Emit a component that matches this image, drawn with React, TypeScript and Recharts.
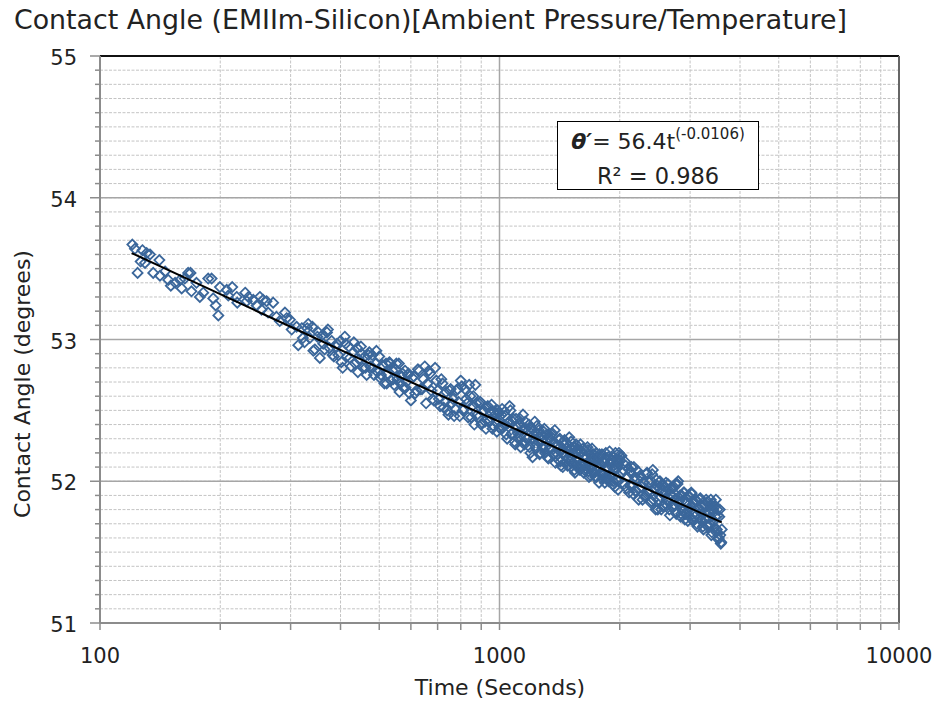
import { ScatterChart, Scatter, XAxis, YAxis, CartesianGrid, ReferenceLine } from "recharts";

// tick positions (log time axis, angle axis in 0.1 deg steps)
const timeTicks = [100, 200, 300, 400, 500, 600, 700, 800, 900, 1000, 2000, 3000, 4000, 5000, 6000, 7000, 8000, 9000, 10000];
const timeLabels = [100, 1000, 10000];
const angleTicks = [
  51, 51.1, 51.2, 51.3, 51.4, 51.5, 51.6, 51.7, 51.8, 51.9,
  52, 52.1, 52.2, 52.3, 52.4, 52.5, 52.6, 52.7, 52.8, 52.9,
  53, 53.1, 53.2, 53.3, 53.4, 53.5, 53.6, 53.7, 53.8, 53.9,
  54, 54.1, 54.2, 54.3, 54.4, 54.5, 54.6, 54.7, 54.8, 54.9, 55,
];
const angleLabels = [51, 52, 53, 54, 55];

// measured contact angle [time s, angle deg]
const earlyReadings = [
  [120.5, 53.67], [122.3, 53.64], [124.2, 53.47], [126.4, 53.55], [127.7, 53.63], [129.6, 53.54],
  [130.9, 53.61], [133.4, 53.6], [135.9, 53.47], [140.8, 53.56], [141.3, 53.45], [145.5, 53.48],
  [148.2, 53.42], [150.4, 53.38], [154.2, 53.4], [158.7, 53.42], [160.1, 53.36], [163, 53.43],
  [166.2, 53.47], [168.5, 53.47], [169.4, 53.34], [174.4, 53.4], [177.8, 53.3], [181.3, 53.33],
  [186.6, 53.43], [190.3, 53.43], [192.1, 53.29], [194.8, 53.24], [197.8, 53.17], [199.6, 53.37],
  [207.6, 53.35], [209.5, 53.31], [214.3, 53.37], [219.9, 53.3], [220.6, 53.26], [230.9, 53.33],
  [233, 53.27], [235.2, 53.3], [242, 53.28], [246.6, 53.24], [251.3, 53.3], [253.7, 53.21],
  [256.1, 53.28], [261.1, 53.27], [263.5, 53.19], [271.3, 53.26], [276.5, 53.16], [281.8, 53.13],
  [290.4, 53.19], [293.2, 53.15], [298.9, 53.14], [301.8, 53.07], [310.5, 53.09], [313.5, 52.96],
];

const midReadings = [
  [320, 53.08], [325, 52.98], [330, 53.08], [335, 53.01], [340, 53.09], [345, 52.93], [350, 53.02],
  [355, 52.87], [360, 53.03], [365, 52.93], [370, 53.05], [375, 52.94], [380, 52.99], [385, 52.88],
  [390, 52.95], [395, 52.89], [400, 52.99], [405, 52.8], [410, 53.02], [415, 52.88], [420, 52.95],
  [425, 52.81], [430, 52.91], [435, 52.83], [440, 52.94], [445, 52.86], [450, 52.95], [455, 52.8],
  [460, 52.88], [465, 52.75], [470, 52.89], [475, 52.81], [480, 52.89], [485, 52.75], [490, 52.83],
  [495, 52.77], [500, 52.88], [505, 52.75], [510, 52.82], [515, 52.69], [520, 52.83], [525, 52.76],
  [530, 52.84], [535, 52.71], [540, 52.78], [545, 52.68], [550, 52.79], [555, 52.72], [560, 52.83],
  [565, 52.69], [570, 52.74], [575, 52.66], [580, 52.78], [585, 52.7], [590, 52.75], [595, 52.62],
  [600, 52.57], [610, 52.74], [620, 52.64], [630, 52.78], [640, 52.65], [650, 52.81], [660, 52.69],
  [670, 52.76], [680, 52.58], [690, 52.8], [700, 52.64], [710, 52.53], [720, 52.69], [730, 52.56],
  [740, 52.5], [750, 52.64], [760, 52.55], [770, 52.46], [780, 52.64], [790, 52.56], [800, 52.71],
  [810, 52.5], [820, 52.65], [830, 52.55], [840, 52.68], [850, 52.45], [860, 52.6], [870, 52.68],
  [880, 52.47], [890, 52.55], [900, 52.4], [910, 52.49], [920, 52.42], [930, 52.52], [940, 52.42],
  [950, 52.49], [960, 52.37], [970, 52.49], [980, 52.42], [990, 52.5], [1000, 52.38],
];

const midReadingsB = [
  [322, 53.01], [332, 53.11], [342, 52.92], [352, 53.05], [362, 52.97], [372, 53.07], [382, 52.89],
  [392, 52.97], [402, 52.84], [412, 52.97], [422, 52.87], [432, 52.98], [442, 52.77], [452, 52.9],
  [462, 52.8], [472, 52.91], [482, 52.8], [492, 52.92], [502, 52.73], [512, 52.81], [522, 52.69],
  [532, 52.83], [542, 52.72], [552, 52.83], [562, 52.63], [572, 52.76], [582, 52.66], [592, 52.76],
  [605, 52.73], [615, 52.62], [625, 52.79], [635, 52.65], [645, 52.72], [655, 52.55], [665, 52.78],
  [675, 52.64], [685, 52.57], [695, 52.71], [705, 52.58], [715, 52.72], [725, 52.52], [735, 52.63],
  [745, 52.47], [755, 52.65], [765, 52.58], [775, 52.51], [785, 52.65], [795, 52.46], [805, 52.67],
  [815, 52.51], [825, 52.58], [835, 52.45], [845, 52.6], [855, 52.53], [865, 52.4], [875, 52.55],
  [885, 52.45], [895, 52.56], [905, 52.41], [915, 52.5], [925, 52.37], [935, 52.53], [945, 52.43],
  [955, 52.54], [965, 52.39], [975, 52.47], [985, 52.35], [995, 52.48],
];

const lateReadings = [
  [1010, 52.47], [1020, 52.38], [1030, 52.49], [1040, 52.33], [1050, 52.41], [1060, 52.53], [1070, 52.33],
  [1080, 52.42], [1090, 52.28], [1100, 52.44], [1110, 52.34], [1120, 52.41], [1130, 52.24], [1140, 52.36],
  [1150, 52.28], [1160, 52.42], [1170, 52.3], [1180, 52.36], [1190, 52.24], [1200, 52.38], [1210, 52.17],
  [1220, 52.33], [1230, 52.25], [1240, 52.39], [1250, 52.28], [1260, 52.19], [1270, 52.33], [1280, 52.24],
  [1290, 52.35], [1300, 52.2], [1310, 52.28], [1320, 52.17], [1330, 52.31], [1340, 52.24], [1350, 52.33],
  [1360, 52.19], [1370, 52.27], [1380, 52.13], [1390, 52.26], [1400, 52.19], [1410, 52.29], [1420, 52.14],
  [1430, 52.22], [1440, 52.1], [1450, 52.26], [1460, 52.18], [1470, 52.27], [1480, 52.11], [1490, 52.21],
  [1500, 52.14], [1510, 52.28], [1520, 52.17], [1530, 52.22], [1540, 52.08], [1550, 52.21], [1560, 52.11],
  [1570, 52.23], [1580, 52.15], [1590, 52.08], [1600, 52.21], [1610, 52.11], [1620, 52.23], [1630, 52.08],
  [1640, 52.16], [1650, 52.11], [1660, 52.24], [1670, 52.07], [1680, 52.14], [1690, 52.04], [1700, 52.16],
  [1710, 52.1], [1720, 52.19], [1730, 52.06], [1740, 52.14], [1750, 52.03], [1760, 52.17], [1770, 52.09],
  [1780, 52.19], [1790, 52.06], [1800, 52.11], [1810, 52.02], [1820, 52.14], [1830, 52.05], [1840, 52.16],
  [1850, 52.02], [1860, 52.1], [1870, 52.17], [1880, 52.02], [1890, 52.13], [1900, 52.04], [1910, 52.15],
  [1920, 51.98], [1930, 52.17], [1940, 52.09], [1950, 52.2], [1960, 52.01], [1970, 52.15], [1980, 51.94],
  [1990, 52.2], [2000, 52.15],
];

const lateReadingsB = [
  [1005, 52.37], [1015, 52.51], [1025, 52.4], [1035, 52.46], [1045, 52.3], [1055, 52.42], [1065, 52.5],
  [1075, 52.34], [1085, 52.44], [1095, 52.26], [1105, 52.38], [1115, 52.3], [1125, 52.44], [1135, 52.33],
  [1145, 52.47], [1155, 52.26], [1165, 52.37], [1175, 52.3], [1185, 52.4], [1195, 52.2], [1205, 52.37],
  [1215, 52.3], [1225, 52.42], [1235, 52.23], [1245, 52.33], [1255, 52.36], [1265, 52.2], [1275, 52.29],
  [1285, 52.23], [1295, 52.37], [1305, 52.24], [1315, 52.33], [1325, 52.16], [1335, 52.3], [1345, 52.23],
  [1355, 52.34], [1365, 52.19], [1375, 52.36], [1385, 52.2], [1395, 52.25], [1405, 52.15], [1415, 52.3],
  [1425, 52.11], [1435, 52.27], [1445, 52.2], [1455, 52.29], [1465, 52.14], [1475, 52.23], [1485, 52.17],
  [1495, 52.31], [1505, 52.1], [1515, 52.23], [1525, 52.13], [1535, 52.24], [1545, 52.06], [1555, 52.26],
  [1565, 52.15], [1575, 52.22], [1585, 52.1], [1595, 52.26], [1605, 52.13], [1615, 52.17], [1625, 52.06],
  [1635, 52.22], [1645, 52.09], [1655, 52.17], [1665, 52.22], [1675, 52.03], [1685, 52.19], [1695, 52.11],
  [1705, 52.23], [1715, 52.06], [1725, 52.16], [1735, 52.03], [1745, 52.2], [1755, 52.1], [1765, 52.15],
  [1775, 51.99], [1785, 52.17], [1795, 52.05], [1805, 52.19], [1815, 52.06], [1825, 52.15], [1835, 51.99],
  [1845, 52.2], [1855, 52.03], [1865, 52.09], [1875, 52.0], [1885, 52.21], [1895, 52.04], [1905, 52.14],
  [1915, 52.1], [1925, 52.0], [1935, 52.08], [1945, 51.96], [1955, 52.12], [1965, 52.09], [1975, 52.14],
  [1985, 52.0], [1995, 52.18],
];

const finalReadings = [
  [2020, 52.18], [2040, 52.08], [2060, 52.14], [2080, 51.95], [2100, 52.09], [2120, 51.97], [2140, 52.1],
  [2160, 51.91], [2180, 52.03], [2200, 51.93], [2220, 52.07], [2240, 51.95], [2260, 52.03], [2280, 51.87],
  [2300, 51.99], [2320, 51.9], [2340, 52.06], [2360, 51.93], [2380, 52.01], [2400, 51.86], [2420, 52.08],
  [2440, 51.95], [2460, 51.8], [2480, 51.97], [2500, 51.87], [2520, 52.0], [2540, 51.8], [2560, 51.93],
  [2580, 51.83], [2600, 51.96], [2620, 51.87], [2640, 51.98], [2660, 51.8], [2680, 51.91], [2700, 51.82],
  [2720, 51.95], [2740, 51.83], [2760, 51.98], [2780, 51.78], [2800, 52.0], [2820, 51.86], [2840, 51.75],
  [2860, 51.9], [2880, 51.79], [2900, 51.92], [2920, 51.77], [2940, 51.85], [2960, 51.72], [2980, 51.89],
  [3000, 51.79], [3020, 51.92], [3040, 51.73], [3060, 51.84], [3080, 51.75], [3100, 51.87], [3120, 51.7],
  [3140, 51.81], [3160, 51.74], [3180, 51.88], [3200, 51.72], [3220, 51.82], [3240, 51.66], [3260, 51.84],
  [3280, 51.73], [3300, 51.85], [3320, 51.68], [3340, 51.78], [3360, 51.7], [3380, 51.87], [3400, 51.64],
  [3420, 51.8], [3440, 51.72], [3460, 51.82], [3480, 51.87], [3500, 51.66], [3520, 51.76], [3540, 51.6],
  [3560, 51.8], [3580, 51.56], [3600, 51.66],
];

const finalReadingsB = [
  [2030, 52.06], [2050, 51.98], [2070, 52.11], [2090, 52.03], [2110, 51.92], [2130, 52.06], [2150, 51.97],
  [2170, 52.1], [2190, 51.93], [2210, 52.02], [2230, 51.87], [2250, 52.04], [2270, 51.96], [2290, 51.99],
  [2310, 51.89], [2330, 52.05], [2350, 51.92], [2370, 51.99], [2390, 51.85], [2410, 52.05], [2430, 51.87],
  [2450, 51.94], [2470, 52.01], [2490, 51.8], [2510, 51.95], [2530, 51.89], [2550, 51.97], [2570, 51.82],
  [2590, 51.9], [2610, 51.99], [2630, 51.83], [2650, 51.94], [2670, 51.76], [2690, 51.9], [2710, 51.95],
  [2730, 51.82], [2750, 51.91], [2770, 51.77], [2790, 51.98], [2810, 51.84], [2830, 51.9], [2850, 51.77],
  [2870, 51.86], [2890, 51.92], [2910, 51.73], [2930, 51.86], [2950, 51.79], [2970, 51.9], [2990, 51.75],
  [3010, 51.82], [3030, 51.91], [3050, 51.72], [3070, 51.85], [3090, 51.78], [3110, 51.86], [3130, 51.68],
  [3150, 51.81], [3170, 51.87], [3190, 51.73], [3210, 51.79], [3230, 51.68], [3250, 51.83], [3270, 51.73],
  [3290, 51.87], [3310, 51.69], [3330, 51.79], [3350, 51.74], [3370, 51.83], [3390, 51.62], [3410, 51.79],
  [3430, 51.84], [3450, 51.67], [3470, 51.75], [3490, 51.64], [3510, 51.8], [3530, 51.59], [3550, 51.75],
  [3570, 51.62], [3590, 51.57],
];

// power-law fit  theta' = 56.4 t^(-0.0106), read at a few times
const fitCurve = [
  [120, 53.61], [200, 53.32], [300, 53.09], [500, 52.8], [1000, 52.42],
  [2000, 52.03], [3000, 51.81], [3600, 51.71],
];

const toPoints = (rows: number[][]) => rows.map(([t, v]) => ({ t, v }));
const readings = [
  earlyReadings, midReadings, midReadingsB, lateReadings, lateReadingsB, finalReadings, finalReadingsB,
].flatMap(toPoints);
const fit = toPoints(fitCurve);

const FONT = "'DejaVu Sans', Verdana, sans-serif";
const MARKER = "#3b679b";

const Diamond = (props: any) => {
  const { cx, cy } = props;
  if (cx == null || cy == null) return <g />;
  const r = 5;
  return (
    <path
      d={`M${cx},${cy - r}L${cx + r},${cy}L${cx},${cy + r}L${cx - r},${cy}Z`}
      fill="none"
      stroke={MARKER}
      strokeWidth={1.8}
    />
  );
};

const TimeTick = (props: any) => {
  const { x, y, payload } = props;
  const major = timeLabels.includes(payload.value);
  return (
    <g>
      <line x1={x} y1={y} x2={x} y2={y + 7} stroke="#8c8c8c" strokeWidth={1.5} />
      {major && (
        <text x={x} y={y + 40} textAnchor="middle" fontFamily={FONT} fontSize={21} fill="#222">
          {payload.value}
        </text>
      )}
    </g>
  );
};

const AngleTick = (props: any) => {
  const { x, y, payload } = props;
  const major = angleLabels.includes(payload.value);
  return (
    <g>
      <line x1={x - (major ? 10 : 5)} y1={y} x2={x} y2={y} stroke="#8c8c8c" strokeWidth={1.5} />
      {major && (
        <text x={x - 23} y={y + 9} textAnchor="end" fontFamily={FONT} fontSize={21} fill="#222">
          {payload.value}
        </text>
      )}
    </g>
  );
};

export default function App() {
  return (
    <div style={{ position: "relative", width: 937, height: 702, background: "#fff", fontFamily: FONT }}>
      <style>{"body{margin:0}"}</style>
      <ScatterChart width={937} height={702} margin={{ top: 56, right: 38, bottom: 39, left: 40 }}>
        <CartesianGrid
          verticalValues={timeTicks}
          horizontalValues={angleTicks}
          stroke="#c4c4c4"
          strokeDasharray="3 1.5"
        />
        <CartesianGrid
          verticalValues={timeLabels}
          horizontalValues={angleLabels}
          stroke="#a6a6a6"
          strokeWidth={1.5}
        />
        <XAxis
          dataKey="t"
          type="number"
          scale="log"
          domain={[100, 10000]}
          ticks={timeTicks}
          interval={0}
          height={40}
          tickSize={0}
          tickMargin={0}
          tick={<TimeTick />}
          axisLine={{ stroke: "#8c8c8c", strokeWidth: 2 }}
        />
        <YAxis
          dataKey="v"
          type="number"
          domain={[51, 55]}
          ticks={angleTicks}
          interval={0}
          width={60}
          tickSize={0}
          tickMargin={0}
          tick={<AngleTick />}
          axisLine={{ stroke: "#8c8c8c", strokeWidth: 2 }}
        />
        <ReferenceLine y={55} stroke="#111" strokeWidth={2} />
        <ReferenceLine x={10000} stroke="#666" strokeWidth={2} />
        <Scatter data={readings} shape={<Diamond />} isAnimationActive={false} />
        <Scatter
          data={fit}
          line={{ stroke: "#000", strokeWidth: 2 }}
          shape={() => <g />}
          isAnimationActive={false}
        />
      </ScatterChart>

      <div style={{ position: "absolute", left: 14, top: 7, fontSize: 26.8, lineHeight: 1, color: "#222", whiteSpace: "nowrap" }}>
        Contact Angle (EMIIm-Silicon)[Ambient Pressure/Temperature]
      </div>
      <div
        style={{
          position: "absolute", left: 500, top: 677, transform: "translateX(-50%)",
          fontSize: 22, lineHeight: 1, color: "#222", whiteSpace: "nowrap",
        }}
      >
        Time (Seconds)
      </div>
      <div
        style={{
          position: "absolute", left: 23, top: 384, transform: "translate(-50%, -50%) rotate(-90deg)",
          fontSize: 22, lineHeight: 1, color: "#222", whiteSpace: "nowrap",
        }}
      >
        Contact Angle (degrees)
      </div>

      <div
        style={{
          position: "absolute", left: 557, top: 121, width: 202, height: 69, boxSizing: "border-box",
          border: "1.5px solid #000", background: "#fff", textAlign: "center", color: "#222", whiteSpace: "nowrap",
        }}
      >
        <div style={{ fontSize: 22, lineHeight: "22px", marginTop: 9 }}>
          <b><i>θ′</i></b>= 56.4t<span style={{ fontSize: 15, position: "relative", top: -10 }}>(-0.0106)</span>
        </div>
        <div style={{ fontSize: 22.5, lineHeight: "22px", marginTop: 10 }}>R² = 0.986</div>
      </div>
    </div>
  );
}
